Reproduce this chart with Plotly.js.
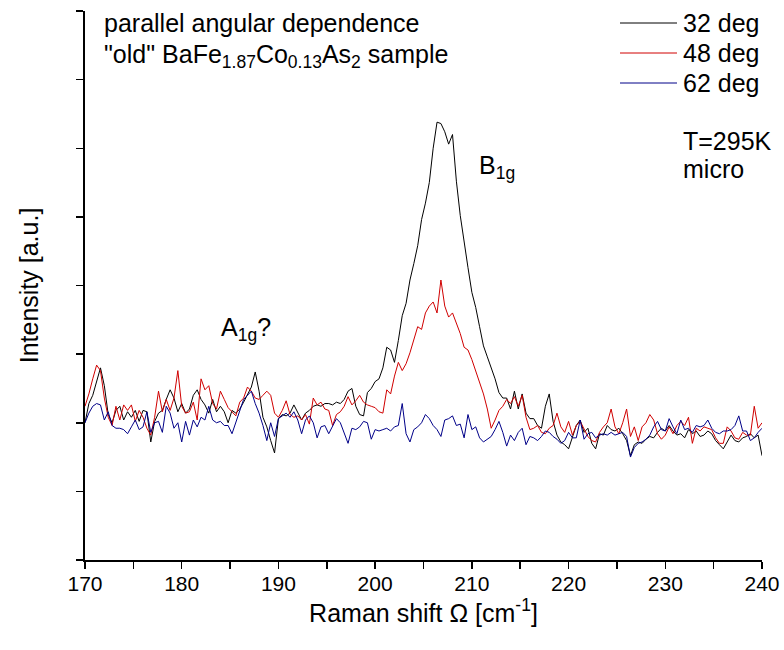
<!DOCTYPE html>
<html><head><meta charset="utf-8">
<script src="https://cdn.plot.ly/plotly-3.0.1.min.js"></script>
<style>html,body{margin:0;padding:0;background:#fff;}#chart{width:784px;height:650px;}</style>
</head><body><div id="chart"></div>
<script>
// Raman shift (cm^-1)
const ramanShift = [
170.0,170.4,170.8,171.2,171.6,172.0,172.4,172.8,173.2,173.6,
174.0,174.4,174.8,175.2,175.6,176.0,176.4,176.8,177.2,177.6,
178.0,178.4,178.8,179.2,179.6,180.0,180.4,180.8,181.2,181.6,
182.0,182.4,182.8,183.2,183.6,184.0,184.4,184.8,185.2,185.6,
186.0,186.4,186.8,187.2,187.6,188.0,188.4,188.8,189.2,189.6,
190.0,190.4,190.8,191.2,191.6,192.0,192.4,192.8,193.2,193.6,
194.0,194.4,194.8,195.2,195.6,196.0,196.4,196.8,197.2,197.6,
198.0,198.4,198.8,199.2,199.6,200.0,200.4,200.8,201.2,201.6,
202.0,202.4,202.8,203.2,203.6,204.0,204.4,204.8,205.2,205.6,
206.0,206.4,206.8,207.2,207.6,208.0,208.4,208.8,209.2,209.6,
210.0,210.4,210.8,211.2,211.6,212.0,212.4,212.8,213.2,213.6,
214.0,214.4,214.8,215.2,215.6,216.0,216.4,216.8,217.2,217.6,
218.0,218.4,218.8,219.2,219.6,220.0,220.4,220.8,221.2,221.6,
222.0,222.4,222.8,223.2,223.6,224.0,224.4,224.8,225.2,225.6,
226.0,226.4,226.8,227.2,227.6,228.0,228.4,228.8,229.2,229.6,
230.0,230.4,230.8,231.2,231.6,232.0,232.4,232.8,233.2,233.6,
234.0,234.4,234.8,235.2,235.6,236.0,236.4,236.8,237.2,237.6,
238.0,238.4,238.8,239.2,239.6,240.0];

// Intensity, 32 deg
const deg32 = [
0.00,0.14,0.20,0.30,0.40,0.27,0.06,0.00,0.09,0.12,
0.02,0.08,0.04,0.09,0.01,0.09,0.08,-0.14,0.01,0.07,
0.09,0.17,0.24,0.18,0.08,0.14,0.07,0.10,0.20,0.24,
0.17,0.13,0.07,0.17,0.08,0.12,0.08,0.00,0.09,0.07,
0.10,0.15,0.21,0.26,0.37,0.23,0.04,-0.03,-0.13,-0.22,
0.03,0.06,0.05,0.07,0.13,0.08,0.02,0.07,0.09,0.12,
0.13,0.12,0.14,0.14,0.13,0.15,0.14,0.17,0.23,0.25,
0.12,0.06,0.05,0.22,0.25,0.30,0.32,0.40,0.55,0.53,
0.44,0.60,0.78,0.87,1.04,1.16,1.29,1.48,1.60,1.75,
2.00,2.19,2.18,2.12,2.03,2.10,1.76,1.51,1.31,1.13,
0.95,0.84,0.70,0.56,0.48,0.40,0.32,0.22,0.18,0.18,
0.10,0.23,0.10,0.21,0.07,0.03,0.03,-0.02,-0.04,0.12,
0.21,0.01,-0.09,-0.14,-0.16,-0.19,-0.10,-0.02,0.02,-0.07,
-0.04,-0.15,-0.19,-0.08,-0.09,-0.02,-0.05,-0.06,-0.04,-0.08,
-0.13,-0.24,-0.16,-0.14,-0.15,-0.12,-0.10,-0.11,-0.07,-0.04,
-0.06,-0.02,-0.06,-0.09,-0.08,-0.11,-0.05,-0.08,-0.06,-0.10,
-0.09,-0.06,-0.08,-0.13,-0.16,-0.19,-0.14,-0.09,-0.13,-0.14,
-0.11,-0.10,-0.08,-0.11,-0.09,-0.24];

// Intensity, 48 deg
const deg48 = [
0.12,0.21,0.32,0.42,0.38,0.18,0.04,-0.02,0.12,0.02,
0.13,0.09,0.13,0.01,0.09,0.04,-0.04,-0.09,0.04,0.23,
0.08,0.17,0.09,0.18,0.38,0.12,0.07,0.08,0.15,0.02,
0.32,0.24,0.27,0.14,0.10,0.23,0.17,0.11,0.08,0.05,
0.15,0.18,0.26,0.23,0.18,0.17,0.20,0.23,0.20,0.07,
0.04,0.09,0.16,0.06,0.04,0.05,0.02,0.06,-0.01,0.18,
0.13,0.15,0.10,0.09,-0.02,0.06,0.08,0.12,0.19,0.13,
0.16,0.20,0.15,0.13,0.12,0.11,0.08,0.07,0.24,0.21,
0.34,0.44,0.38,0.43,0.51,0.60,0.70,0.68,0.80,0.85,
0.88,0.80,1.04,0.85,0.77,0.80,0.72,0.65,0.55,0.53,
0.46,0.38,0.29,0.21,0.10,-0.04,0.02,0.09,0.12,0.17,
0.14,0.19,0.12,0.20,0.04,-0.05,-0.04,-0.02,-0.07,-0.08,
-0.04,-0.02,0.07,-0.03,-0.07,0.01,-0.09,-0.02,0.01,-0.04,
-0.10,-0.13,-0.14,-0.07,-0.03,0.00,0.10,-0.03,-0.08,0.00,
0.10,-0.10,-0.03,-0.13,-0.03,0.00,0.06,0.02,-0.08,-0.12,
-0.09,-0.03,-0.08,-0.02,0.01,-0.02,0.04,-0.15,-0.04,-0.06,
-0.03,-0.04,-0.05,-0.11,-0.15,-0.15,-0.03,-0.06,-0.11,-0.12,
-0.07,-0.09,-0.09,0.12,-0.04,0.00];

// Intensity, 62 deg
const deg62 = [
0.00,0.07,0.12,0.14,0.13,0.02,0.08,-0.02,-0.04,-0.04,
-0.05,-0.08,-0.03,0.02,-0.05,-0.03,0.08,-0.07,0.00,0.01,
-0.07,0.12,0.07,-0.04,0.00,-0.14,0.01,-0.09,0.02,-0.03,
0.04,0.02,0.12,0.02,0.00,0.01,-0.02,-0.02,-0.08,0.00,
0.08,0.17,0.20,0.23,0.14,0.07,-0.02,-0.13,0.00,-0.10,
0.03,0.05,0.07,0.04,0.08,0.02,-0.08,0.02,0.05,0.00,
-0.11,-0.03,-0.02,-0.08,-0.03,0.03,0.00,-0.07,-0.15,-0.04,
-0.05,-0.03,0.01,0.00,-0.12,-0.05,-0.06,-0.05,-0.04,-0.06,
-0.03,-0.02,0.14,-0.08,-0.14,-0.05,-0.03,0.00,0.06,0.03,
-0.02,-0.05,-0.10,0.02,0.03,0.05,-0.02,-0.01,-0.11,0.06,
-0.05,-0.03,-0.11,-0.14,-0.12,-0.10,-0.05,0.01,-0.07,-0.17,
-0.09,-0.13,-0.07,-0.04,-0.16,-0.10,-0.11,-0.13,-0.10,-0.06,
-0.07,-0.10,-0.12,-0.15,-0.13,-0.07,-0.11,-0.11,0.02,-0.12,
-0.08,-0.07,-0.11,-0.09,-0.08,-0.09,-0.07,-0.09,-0.08,-0.07,
-0.10,-0.25,-0.18,-0.15,-0.14,-0.12,-0.09,-0.03,0.01,-0.05,
-0.06,0.03,-0.03,-0.08,0.02,-0.05,-0.04,-0.07,-0.02,-0.03,
-0.02,0.02,-0.04,-0.07,-0.08,-0.06,-0.06,-0.05,-0.02,0.05,
-0.06,-0.06,-0.13,-0.11,-0.07,-0.04];

const seriesNames = ['32 deg', '48 deg', '62 deg'];
const seriesColors = ['#000000', '#d00000', '#000088'];
const seriesData = [deg32, deg48, deg62];

const FONT = 'Liberation Sans, Arial, sans-serif';
const W = 784, H = 650;
const M = {l: 85, r: 22, t: 11, b: 90};
const px = p => (p - M.l) / (W - M.l - M.r);
const py = p => (H - M.b - p) / (H - M.t - M.b);

const traces = seriesData.map((d, k) => ({
  x: ramanShift, y: d, name: seriesNames[k], type: 'scatter', mode: 'lines',
  line: {color: seriesColors[k], width: 1}, showlegend: false, hoverinfo: 'skip'
}));

const legendRows = [23, 53, 83];
const shapes = legendRows.map((r, k) => ({
  type: 'line', xref: 'paper', yref: 'paper', x0: px(620), x1: px(677), y0: py(r), y1: py(r),
  line: {color: seriesColors[k], width: 1}
}));

const txt = (text, xp, yp, size, anchor) => ({
  text: text, xref: 'paper', yref: 'paper', x: px(xp), y: py(yp), xanchor: anchor || 'left', yanchor: 'middle',
  showarrow: false, font: {family: FONT, size: size, color: '#000'}
});

const annotations = [
  txt('parallel angular dependence', 102, 23, 25),
  txt('"old" BaFe<sub>1.87</sub>Co<sub>0.13</sub>As<sub>2</sub> sample', 102, 56, 25),
  ...legendRows.map((r, k) => txt(seriesNames[k], 681, r, 25)),
  txt('T=295K', 681, 141, 25),
  txt('micro', 681, 169, 25),
  txt('A<sub>1g</sub>?', 219, 329, 25),
  txt('B<sub>1g</sub>', 477, 167, 25)
];

const layout = {
  width: W, height: H, autosize: false, margin: M,
  paper_bgcolor: '#ffffff', plot_bgcolor: '#ffffff',
  font: {family: FONT, color: '#000'},
  showlegend: false, hovermode: false,
  xaxis: {
    range: [170, 240], tick0: 170, dtick: 10, ticks: 'outside', ticklen: 7, tickwidth: 1.5, tickcolor: '#000',
    minor: {dtick: 5, ticks: 'outside', ticklen: 7, tickwidth: 1.5, tickcolor: '#000', showgrid: false},
    showline: true, linewidth: 2, linecolor: '#000', showgrid: false, zeroline: false,
    ticklabelstandoff: -3,
    tickfont: {family: FONT, size: 21, color: '#000'},
    title: {text: 'Raman shift Ω [cm<sup>-1</sup>]', font: {family: FONT, size: 25, color: '#000'}, standoff: 0}
  },
  yaxis: {
    range: [-1, 3], tick0: 0, dtick: 0.5, ticks: 'outside', ticklen: 7, tickwidth: 1.5, tickcolor: '#000',
    showticklabels: false, showline: true, linewidth: 2, linecolor: '#000', showgrid: false, zeroline: false,
    title: {text: 'Intensity [a.u.]', font: {family: FONT, size: 25, color: '#000'}, standoff: 30}
  },
  shapes: shapes,
  annotations: annotations
};

Plotly.newPlot('chart', traces, layout, {staticPlot: true, displayModeBar: false});
</script>
</body></html>
